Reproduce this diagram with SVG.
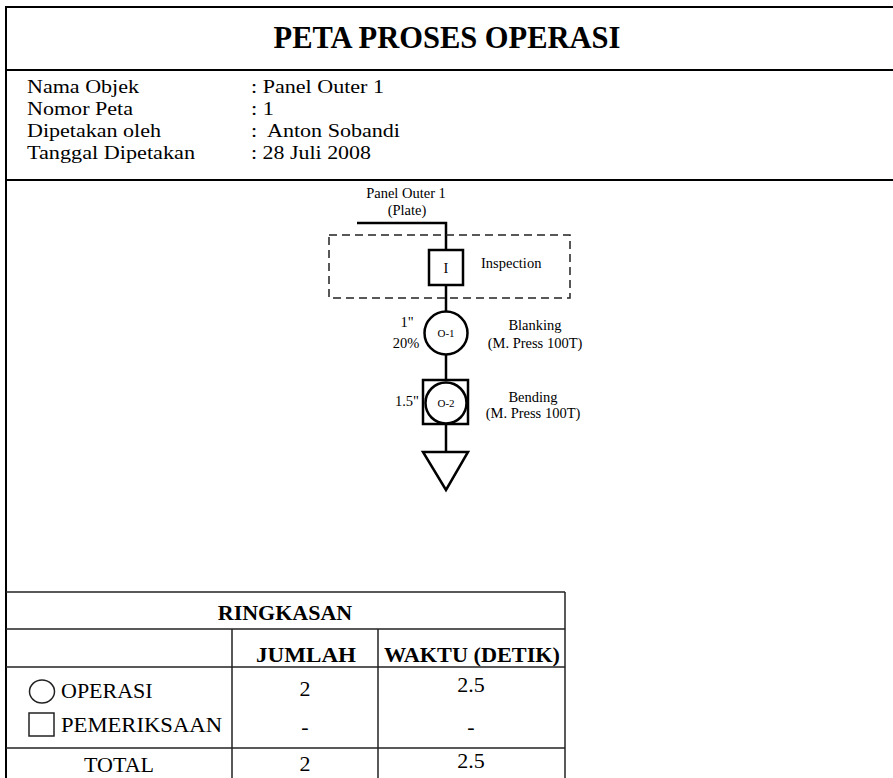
<svg xmlns="http://www.w3.org/2000/svg" width="893" height="778" viewBox="0 0 893 778">
<style>
text{font-family:"Liberation Serif","Times New Roman",serif;fill:#000}
.frame{stroke:#000;stroke-width:2;fill:none}
.thin{stroke:#222;stroke-width:1.5;fill:none}
.flow{stroke:#000;stroke-width:2.5;fill:none}
.sym{stroke:#000;stroke-width:2.5;fill:#fff}
.dash{stroke:#222;stroke-width:1.5;fill:none;stroke-dasharray:8 5}
.info{font-size:19.5px}
.lbl{font-size:14.5px}
.sm{font-size:11px}
.tb{font-size:22px}
.b{font-weight:bold}
</style>
<rect width="893" height="778" fill="#fff"/>
<g id="frame">
<line class="frame" x1="6" y1="7" x2="893" y2="7"/>
<line class="frame" x1="6" y1="6" x2="6" y2="778"/>
<line class="frame" x1="6" y1="70" x2="893" y2="70"/>
<line class="frame" x1="6" y1="180" x2="893" y2="180"/>
</g>
<g id="header">
<text x="447" y="48" font-size="30.5" font-weight="bold" text-anchor="middle">PETA PROSES OPERASI</text>
<text class="info" x="27" y="93" textLength="112" lengthAdjust="spacingAndGlyphs">Nama Objek</text>
<text class="info" x="251" y="93" textLength="133" lengthAdjust="spacingAndGlyphs">: Panel Outer 1</text>
<text class="info" x="27" y="115" textLength="106" lengthAdjust="spacingAndGlyphs">Nomor Peta</text>
<text class="info" x="251" y="115" textLength="23" lengthAdjust="spacingAndGlyphs">: 1</text>
<text class="info" x="27" y="137" textLength="134" lengthAdjust="spacingAndGlyphs">Dipetakan oleh</text>
<text class="info" x="251" y="137" xml:space="preserve" textLength="149" lengthAdjust="spacingAndGlyphs">:  Anton Sobandi</text>
<text class="info" x="27" y="159" textLength="168" lengthAdjust="spacingAndGlyphs">Tanggal Dipetakan</text>
<text class="info" x="251" y="159" textLength="120" lengthAdjust="spacingAndGlyphs">: 28 Juli 2008</text>
</g>
<g id="connectors">
<polyline class="flow" points="357,223 446,223 446,250"/>
<line class="flow" x1="446" y1="285" x2="446" y2="312"/>
<line class="flow" x1="446" y1="354" x2="446" y2="380"/>
<line class="flow" x1="446" y1="424" x2="446" y2="452"/>
</g>
<g id="start">
<text class="lbl" x="406" y="198" text-anchor="middle" font-size="15">Panel Outer 1</text>
<text class="lbl" x="407" y="215" text-anchor="middle">(Plate)</text>
</g>
<g id="inspection-area">
<rect class="dash" x="329" y="235" width="241" height="63"/>
</g>
<g id="inspection">
<rect class="sym" x="429" y="250" width="34" height="35"/>
<text class="lbl" x="446" y="273" text-anchor="middle">I</text>
<text class="lbl" x="481" y="268">Inspection</text>
</g>
<g id="op1">
<circle class="sym" cx="446" cy="333" r="21.5"/>
<text class="sm" x="446" y="337" text-anchor="middle">O-1</text>
<text class="lbl" x="407" y="327" text-anchor="middle">1"</text>
<text class="lbl" x="406" y="348" text-anchor="middle">20%</text>
<text class="lbl" x="535" y="330" text-anchor="middle">Blanking</text>
<text class="lbl" x="535" y="348" text-anchor="middle">(M. Press 100T)</text>
</g>
<g id="op2">
<rect class="sym" x="423" y="380" width="45" height="44"/>
<circle class="sym" cx="446" cy="403" r="20.5"/>
<text class="sm" x="446" y="407" text-anchor="middle">O-2</text>
<text class="lbl" x="407" y="406" text-anchor="middle">1.5"</text>
<text class="lbl" x="533" y="402" text-anchor="middle">Bending</text>
<text class="lbl" x="533" y="418" text-anchor="middle">(M. Press 100T)</text>
</g>
<g id="storage">
<polygon class="sym" points="423,452 468,452 446,490"/>
</g>
<g id="summary">
<line class="thin" x1="6" y1="592" x2="565" y2="592"/>
<line class="thin" x1="6" y1="629" x2="565" y2="629"/>
<line class="thin" x1="6" y1="667" x2="565" y2="667"/>
<line class="thin" x1="6" y1="748" x2="565" y2="748"/>
<line class="thin" x1="565" y1="592" x2="565" y2="778"/>
<line class="thin" x1="232" y1="629" x2="232" y2="778"/>
<line class="thin" x1="378" y1="629" x2="378" y2="778"/>
<text class="tb b" x="285" y="620" text-anchor="middle" font-size="21">RINGKASAN</text>
<text class="tb b" x="306" y="662" text-anchor="middle" textLength="100" lengthAdjust="spacingAndGlyphs">JUMLAH</text>
<text class="tb b" x="472" y="662" text-anchor="middle" textLength="176" lengthAdjust="spacingAndGlyphs">WAKTU (DETIK)</text>
<ellipse class="thin" cx="42" cy="691.5" rx="12.5" ry="11.5"/>
<rect class="thin" x="29" y="713" width="25" height="23"/>
<text class="tb" x="61" y="698">OPERASI</text>
<text class="tb" x="61" y="732" textLength="161" lengthAdjust="spacingAndGlyphs">PEMERIKSAAN</text>
<text class="tb" x="305" y="696" text-anchor="middle">2</text>
<text class="tb" x="471" y="692" text-anchor="middle">2.5</text>
<text class="tb" x="305" y="734" text-anchor="middle">-</text>
<text class="tb" x="471" y="734" text-anchor="middle">-</text>
<text class="tb" x="119" y="772" text-anchor="middle" font-size="21">TOTAL</text>
<text class="tb" x="305" y="771" text-anchor="middle">2</text>
<text class="tb" x="471" y="768" text-anchor="middle">2.5</text>
</g>
</svg>
